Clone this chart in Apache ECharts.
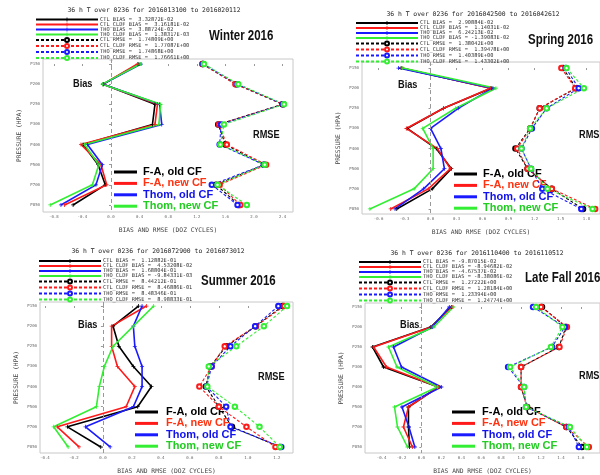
<!DOCTYPE html>
<html><head><meta charset="utf-8">
<script src="https://cdn.jsdelivr.net/npm/echarts@6/dist/echarts.min.js"></script>
<style>html,body{margin:0;padding:0;background:#fff}#c{width:600px;height:475px}</style>
</head><body><div id="c"></div>
<script>
const levels = ['P150','P200','P250','P300','P400','P500','P700','P850'];

// Winter 2016
const wBiasCtl = [0.39, -0.11, 0.615, 0.58, -0.39, -0.18, -0.08, -0.53];
const wBiasClf = [0.37, -0.11, 0.65, 0.615, -0.42, -0.14, -0.06, -0.65];
const wBiasTho = [0.42, -0.11, 0.68, 0.71, -0.33, -0.12, -0.21, -0.70];
const wBiasThc = [0.41, -0.12, 0.695, 0.67, -0.37, -0.17, -0.26, -0.85];
const wRmseCtl = [1.28, 1.75, 2.40, 1.50, 1.60, 2.14, 1.47, 1.79];
const wRmseClf = [1.28, 1.74, 2.41, 1.51, 1.62, 2.17, 1.52, 1.81];
const wRmseTho = [1.29, 1.77, 2.41, 1.54, 1.52, 2.14, 1.41, 1.77];
const wRmseThc = [1.30, 1.78, 2.42, 1.58, 1.53, 2.15, 1.49, 1.90];
const wStats = ['CTL BIAS =  3.32872E-02','CTL_CLDF BIAS =  3.16181E-02','THO BIAS =  3.88724E-02','THO_CLDF BIAS =  1.38317E-03',
                'CTL RMSE =  1.74809E+00','CTL_CLDF RMSE =  1.77087E+00','THO RMSE =  1.74868E+00','THO_CLDF RMSE =  1.76661E+00'];
const wTicks = [-0.8,-0.4,0,0.4,0.8,1.2,1.6,2.0,2.4];

// Spring 2016
const sBiasCtl = [-0.34, 0.70, 0.15, -0.27, 0.066, 0.24, 0.02, -0.39];
const sBiasClf = [-0.33, 0.69, 0.15, -0.28, 0.08, 0.23, -0.026, -0.46];
const sBiasTho = [-0.37, 0.72, 0.32, 0.00, 0.12, 0.16, -0.08, -0.41];
const sBiasThc = [-0.32, 0.755, 0.29, -0.09, 0.03, 0.03, -0.19, -0.70];
const sRmseCtl = [1.53, 1.68, 1.26, 1.15, 0.98, 1.12, 1.40, 1.76];
const sRmseClf = [1.51, 1.67, 1.26, 1.15, 1.00, 1.12, 1.40, 1.90];
const sRmseTho = [1.56, 1.71, 1.34, 1.17, 1.05, 1.16, 1.29, 1.74];
const sRmseThc = [1.57, 1.77, 1.34, 1.15, 1.05, 1.16, 1.35, 1.87];
const sStats = ['CTL BIAS =  2.90884E-02','CTL_CLDF BIAS =  1.14031E-02','THO BIAS =  6.24213E-02','THO_CLDF BIAS = -1.39083E-02',
                'CTL RMSE =  1.38042E+00','CTL_CLDF RMSE =  1.39478E+00','THO RMSE =  1.40389E+00','THO_CLDF RMSE =  1.43302E+00'];
const sTicks = [-0.6,-0.3,0,0.3,0.6,0.9,1.2,1.5,1.8];

// Summer 2016
const uBiasCtl = [0.245, 0.07, 0.11, 0.21, 0.335, 0.24, -0.245, -0.015];
const uBiasClf = [0.30, 0.06, 0.06, 0.10, 0.22, 0.16, -0.315, -0.165];
const uBiasTho = [0.27, 0.21, 0.22, 0.27, 0.27, 0.21, -0.12, 0.05];
const uBiasThc = [0.35, 0.21, 0.07, 0.01, -0.025, -0.045, -0.34, -0.24];
const uRmseCtl = [1.24, 1.055, 0.85, 0.74, 0.71, 0.80, 0.89, 1.22];
const uRmseClf = [1.25, 1.055, 0.84, 0.75, 0.665, 0.80, 0.99, 1.19];
const uRmseTho = [1.21, 1.05, 0.88, 0.75, 0.715, 0.85, 0.88, 1.23];
const uRmseThc = [1.27, 1.11, 0.92, 0.73, 0.72, 0.91, 1.08, 1.22];
const uStats = ['CTL BIAS =  1.12882E-01','CTL_CLDF BIAS =  4.53208E-02','THO BIAS =  1.68804E-01','THO_CLDF BIAS = -9.84331E-03',
                'CTL RMSE =  8.44212E-01','CTL_CLDF RMSE =  8.46886E-01','THO RMSE =  8.48346E-01','THO_CLDF RMSE =  8.98833E-01'];
const uTicks = [-0.4,-0.2,0,0.2,0.4,0.6,0.8,1.0,1.2];

// Late Fall 2016
const fBiasCtl = [0.30, 0.094, -0.49, -0.38, 0.17, -0.13, -0.13, -0.12];
const fBiasClf = [0.31, 0.10, -0.48, -0.35, 0.17, -0.13, -0.18, -0.09];
const fBiasTho = [0.28, 0.11, -0.28, -0.20, 0.20, -0.195, -0.125, -0.066];
const fBiasThc = [0.32, 0.125, -0.33, -0.245, 0.16, -0.27, -0.24, -0.14];
const fRmseCtl = [1.21, 1.45, 1.38, 1.00, 1.00, 1.06, 1.455, 1.61];
const fRmseClf = [1.20, 1.46, 1.385, 1.00, 1.00, 1.06, 1.455, 1.68];
const fRmseTho = [1.12, 1.44, 1.31, 0.87, 1.03, 1.05, 1.48, 1.58];
const fRmseThc = [1.15, 1.415, 1.30, 0.89, 1.03, 1.05, 1.49, 1.66];
const fStats = ['CTL BIAS = -9.87015E-02','CTL_CLDF BIAS = -8.94682E-02','THO BIAS = -4.67537E-02','THO_CLDF BIAS = -8.38086E-02',
                'CTL RMSE =  1.27222E+00','CTL_CLDF RMSE =  1.28184E+00','THO RMSE =  1.23394E+00','THO_CLDF RMSE =  1.24774E+00'];
const fTicks = [-0.4,-0.2,0,0.2,0.4,0.6,0.8,1.0,1.2,1.4,1.6];

const titles = ['36 h T over 0236 for 2016013100 to 2016020112','36 h T over 0236 for 2016042500 to 2016042612',
                '36 h T over 0236 for 2016072900 to 2016073012','36 h T over 0236 for 2016110400 to 2016110512'];
const seasons = ['Winter 2016','Spring 2016','Summer 2016','Late Fall 2016'];
const keyLabels = ['F-A, old CF','F-A, new CF','Thom, old CF','Thom, new CF'];

const lineColors = ['#000000','#ff1a1a','#1a1aff','#33ee33'];
const keyTextColors = ['#000000','#ff3311','#1111ee','#22cc22'];

// layout per panel
const L = [
  {grid:{left:43,top:59,width:250,height:153}, xmin:-0.951, xmax:2.546, ymin:-0.25, ymax:7.35, ticks:wTicks,
   title:[154,10], leg:[35,17], season:[209,36], bias:[73,84], rmse:[253,135], key:[114,143,172]},
  {grid:{left:362,top:62,width:250,height:152}, xmin:-0.791, xmax:1.956, ymin:-0.3, ymax:7.25, ticks:sTicks,
   title:[473,14], leg:[355,20.5], season:[528,40], bias:[398,85], rmse:[579,135], key:[454,483,174]},
  {grid:{left:40,top:302,width:253,height:151}, xmin:-0.434, xmax:1.311, ymin:-0.2, ymax:7.3, ticks:uTicks,
   title:[158,251], leg:[38,258.5], season:[201,281], bias:[78,325], rmse:[258,377], key:[135,166,412]},
  {grid:{left:365,top:303,width:250,height:151}, xmin:-0.566, xmax:1.792, ymin:-0.2, ymax:7.3, ticks:fTicks,
   title:[477,253], leg:[358,259.5], season:[525,278], bias:[400,325], rmse:[579,376], key:[452,482,412]}
];

const panelData = [
  {bias:[wBiasCtl,wBiasClf,wBiasTho,wBiasThc], rmse:[wRmseCtl,wRmseClf,wRmseTho,wRmseThc], stats:wStats},
  {bias:[sBiasCtl,sBiasClf,sBiasTho,sBiasThc], rmse:[sRmseCtl,sRmseClf,sRmseTho,sRmseThc], stats:sStats},
  {bias:[uBiasCtl,uBiasClf,uBiasTho,uBiasThc], rmse:[uRmseCtl,uRmseClf,uRmseTho,uRmseThc], stats:uStats},
  {bias:[fBiasCtl,fBiasClf,fBiasTho,fBiasThc], rmse:[fRmseCtl,fRmseClf,fRmseTho,fRmseThc], stats:fStats}
];

const mono = 'DejaVu Sans Mono';
const plusPath = 'path://M4,0h2v4h4v2h-4v4h-2v-4h-4v-2h4z';

const grids = [], xAxes = [], yAxes = [], series = [], legends = [], graphics = [];

L.forEach((p, i) => {
  grids.push(Object.assign({show:true, borderColor:'#c8c8c8', borderWidth:1, containLabel:false}, p.grid));
  xAxes.push({type:'value', gridIndex:i, min:p.xmin, max:p.xmax,
    axisLine:{show:false}, splitLine:{show:false},
    axisTick:{show:true, inside:false, length:2, lineStyle:{color:'#999'}, customValues:p.ticks},
    axisLabel:{customValues:p.ticks, formatter:v => v.toFixed(1), fontFamily:mono, fontSize:4, color:'#666', margin:3},
    name:'BIAS AND RMSE (DOZ CYCLES)', nameLocation:'middle', nameGap:15,
    nameTextStyle:{fontFamily:mono, fontSize:6.3, color:'#444'}});
  yAxes.push({type:'value', gridIndex:i, inverse:true, min:p.ymin, max:p.ymax,
    axisLine:{show:false}, splitLine:{show:false},
    axisTick:{show:true, length:2, lineStyle:{color:'#999'}, customValues:[0,1,2,3,4,5,6,7]},
    axisLabel:{customValues:[0,1,2,3,4,5,6,7], formatter:v => levels[v] || '', fontFamily:mono, fontSize:4, color:'#666', margin:3},
    name:'PRESSURE (HPA)', nameLocation:'middle', nameGap:21,
    nameTextStyle:{fontFamily:mono, fontSize:6.3, color:'#444'}});

  const d = panelData[i];
  const names = [];
  d.bias.forEach((arr, k) => {
    const nm = d.stats[k];
    names.push(nm);
    const s = {type:'line', name:nm, xAxisIndex:i, yAxisIndex:i,
      data: arr.map((v, j) => [v, j]),
      color: lineColors[k],
      lineStyle:{width:1.6, color:lineColors[k]},
      symbol: plusPath, symbolSize:4, itemStyle:{color:lineColors[k]},
      silent:true, animation:false, z:3};
    if (k === 0) {
      s.markLine = {silent:true, symbol:'none', label:{show:false},
        lineStyle:{color:'#999', type:[4,3], width:1}, data:[{xAxis:0}]};
    }
    series.push(s);
  });
  d.rmse.forEach((arr, k) => {
    const nm = d.stats[4 + k];
    names.push(nm);
    series.push({type:'line', name:nm, xAxisIndex:i, yAxisIndex:i,
      data: arr.map((v, j) => [v, j]),
      color: lineColors[k],
      lineStyle:{width:1.1, type:[3,2], color:lineColors[k]},
      symbol:'emptyCircle', symbolSize:4.5, itemStyle:{color:lineColors[k], borderWidth:1.2},
      silent:true, animation:false, z:3});
  });
  legends.push({data:names, orient:'vertical', left:p.leg[0], top:p.leg[1],
    itemWidth:62, itemHeight:5, itemGap:0, padding:0, selectedMode:false,
    textStyle:{fontFamily:mono, fontSize:5.3, color:'#333', lineHeight:5, padding:[0,0,0,-3]}});

  graphics.push({type:'text', x:p.title[0], y:p.title[1],
    style:{text:titles[i], font:'6.4px "DejaVu Sans Mono"', fill:'#222', textAlign:'center', textVerticalAlign:'middle'}});
  graphics.push({type:'text', x:p.season[0], y:p.season[1], scaleX:0.82, originX:0, originY:0,
    style:{text:seasons[i], font:'bold 14px "Liberation Sans", Arial, sans-serif', fill:'#111', textVerticalAlign:'middle'}});
  graphics.push({type:'text', x:p.bias[0], y:p.bias[1], scaleX:0.92,
    style:{text:'Bias', font:'bold 10px "Liberation Sans", Arial, sans-serif', fill:'#111', textVerticalAlign:'middle'}});
  graphics.push({type:'text', x:p.rmse[0], y:p.rmse[1], scaleX:0.92,
    style:{text:'RMSE', font:'bold 10px "Liberation Sans", Arial, sans-serif', fill:'#111', textVerticalAlign:'middle'}});
  keyLabels.forEach((t, k) => {
    const y = p.key[2] + k * 11.4;
    graphics.push({type:'line', shape:{x1:p.key[0], y1:y, x2:p.key[0] + 23, y2:y},
      style:{stroke:lineColors[k], lineWidth:3}});
    graphics.push({type:'text', x:p.key[1], y:y,
      style:{text:t, font:'bold 11px "Liberation Sans", Arial, sans-serif', fill:keyTextColors[k], textVerticalAlign:'middle'}});
  });
});

const chart = echarts.init(document.getElementById('c'), null, {renderer:'canvas'});
chart.setOption({
  backgroundColor:'#fff',
  animation:false,
  grid:grids, xAxis:xAxes, yAxis:yAxes, series:series, legend:legends,
  graphic:{elements:graphics}
});
</script>
</body></html>
